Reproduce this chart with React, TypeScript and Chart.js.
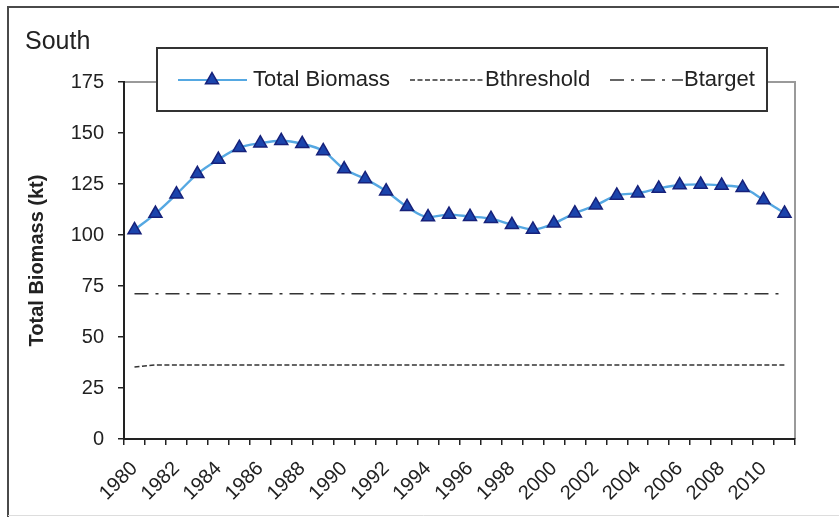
import React, { useEffect, useRef } from 'react';
import { Chart, registerables } from 'chart.js';

Chart.register(...registerables);

const years = [
  '1980', '1981', '1982', '1983', '1984', '1985', '1986', '1987', '1988', '1989',
  '1990', '1991', '1992', '1993', '1994', '1995', '1996', '1997', '1998', '1999',
  '2000', '2001', '2002', '2003', '2004', '2005', '2006', '2007', '2008', '2009',
  '2010', '2011',
];

const totalBiomass = [
  102.5, 110.5, 120, 130, 137, 142.8, 145, 146.2, 144.7, 141.2,
  132.3, 127.5, 121.5, 113.8, 108.8, 110, 109, 108, 105, 102.7,
  105.7, 110.7, 114.6, 119.4, 120.5, 122.8, 124.5, 124.8, 124.3, 123.2,
  117.2, 110.6,
];

const bThreshold = [
  35.3, 36.3, 36.3, 36.3, 36.3, 36.3, 36.3, 36.3, 36.3, 36.3,
  36.3, 36.3, 36.3, 36.3, 36.3, 36.3, 36.3, 36.3, 36.3, 36.3,
  36.3, 36.3, 36.3, 36.3, 36.3, 36.3, 36.3, 36.3, 36.3, 36.3,
  36.3, 36.3,
];

const bTarget = [
  71.2, 71.2, 71.2, 71.2, 71.2, 71.2, 71.2, 71.2, 71.2, 71.2,
  71.2, 71.2, 71.2, 71.2, 71.2, 71.2, 71.2, 71.2, 71.2, 71.2,
  71.2, 71.2, 71.2, 71.2, 71.2, 71.2, 71.2, 71.2, 71.2, 71.2,
  71.2, 71.2,
];

const seriesNames = ['Total Biomass', 'Bthreshold', 'Btarget'];
const chartTitle = 'South';
const yTitle = 'Total Biomass (kt)';

const FONT = '"Liberation Sans", Arial, Helvetica, sans-serif';
const LINE_BLUE = '#55A8E2';
const MARK_FILL = '#1B44AC';
const MARK_EDGE = '#16217A';
const TEXT = '#222222';
const THRESH_DASH = [5, 2.5];
const TARGET_DASH = [14, 7, 3, 7];

function drawTriangle(ctx: CanvasRenderingContext2D, x: number, y: number, r: number) {
  ctx.beginPath();
  let rad = 0;
  ctx.moveTo(x + Math.sin(rad) * r, y - Math.cos(rad) * r);
  rad += (2 * Math.PI) / 3;
  ctx.lineTo(x + Math.sin(rad) * r, y - Math.cos(rad) * r);
  rad += (2 * Math.PI) / 3;
  ctx.lineTo(x + Math.sin(rad) * r, y - Math.cos(rad) * r);
  ctx.closePath();
  ctx.fillStyle = MARK_FILL;
  ctx.strokeStyle = MARK_EDGE;
  ctx.lineWidth = 1.5;
  ctx.fill();
  ctx.stroke();
}

const decorPlugin = {
  id: 'decor',
  beforeDraw(chart: any) {
    const ctx: CanvasRenderingContext2D = chart.ctx;
    const { left, right, top, bottom } = chart.chartArea;
    ctx.save();
    ctx.fillStyle = '#ffffff';
    ctx.fillRect(0, 0, chart.width, chart.height);
    // outer frame
    ctx.strokeStyle = '#4a4a4a';
    ctx.lineWidth = 2;
    ctx.beginPath();
    ctx.moveTo(8, chart.height);
    ctx.lineTo(8, 7);
    ctx.lineTo(chart.width, 7);
    ctx.stroke();
    ctx.strokeStyle = '#dddddd';
    ctx.lineWidth = 1;
    ctx.beginPath();
    ctx.moveTo(8, 515.5);
    ctx.lineTo(chart.width, 515.5);
    ctx.stroke();
    // plot area border (top, right)
    ctx.strokeStyle = '#9a9a9a';
    ctx.lineWidth = 2;
    ctx.beginPath();
    ctx.moveTo(left, top);
    ctx.lineTo(right, top);
    ctx.lineTo(right, bottom);
    ctx.stroke();
    // title
    ctx.fillStyle = TEXT;
    ctx.font = '25px ' + FONT;
    ctx.textAlign = 'left';
    ctx.textBaseline = 'middle';
    ctx.fillText(chartTitle, 25, 42);
    // y title
    ctx.translate(37, (top + bottom) / 2);
    ctx.rotate(-Math.PI / 2);
    ctx.font = 'bold 20px ' + FONT;
    ctx.textAlign = 'center';
    ctx.fillText(yTitle, 0, 0);
    ctx.restore();
  },
  afterDraw(chart: any) {
    const ctx: CanvasRenderingContext2D = chart.ctx;
    ctx.save();
    // legend box
    const bx = 157, by = 48, bw = 610, bh = 63;
    ctx.fillStyle = '#ffffff';
    ctx.fillRect(bx, by, bw, bh);
    ctx.strokeStyle = '#333333';
    ctx.lineWidth = 2;
    ctx.strokeRect(bx, by, bw, bh);
    const cy = 80;
    // entry 1
    ctx.strokeStyle = LINE_BLUE;
    ctx.lineWidth = 2;
    ctx.beginPath();
    ctx.moveTo(178, cy);
    ctx.lineTo(247, cy);
    ctx.stroke();
    drawTriangle(ctx, 212, cy, 7.5);
    ctx.fillStyle = TEXT;
    ctx.font = '22px ' + FONT;
    ctx.textAlign = 'left';
    ctx.textBaseline = 'middle';
    ctx.fillText(seriesNames[0], 253, cy);
    // entry 2
    ctx.strokeStyle = '#333333';
    ctx.lineWidth = 1.5;
    ctx.setLineDash(THRESH_DASH);
    ctx.beginPath();
    ctx.moveTo(410, cy);
    ctx.lineTo(483, cy);
    ctx.stroke();
    ctx.fillText(seriesNames[1], 485, cy);
    // entry 3
    ctx.setLineDash(TARGET_DASH);
    ctx.beginPath();
    ctx.moveTo(610, cy);
    ctx.lineTo(683, cy);
    ctx.stroke();
    ctx.setLineDash([]);
    ctx.fillText(seriesNames[2], 684, cy);
    ctx.restore();
  },
};

export default function App() {
  const ref = useRef<HTMLCanvasElement | null>(null);

  useEffect(() => {
    if (!ref.current) return;
    const chart = new Chart(ref.current, {
      type: 'line',
      data: {
        labels: years,
        datasets: [
          {
            label: seriesNames[0],
            data: totalBiomass,
            borderColor: LINE_BLUE,
            borderWidth: 2.4,
            tension: 0.4,
            cubicInterpolationMode: 'monotone',
            pointStyle: 'triangle',
            pointRadius: 7.5,
            pointBackgroundColor: MARK_FILL,
            pointBorderColor: MARK_EDGE,
            pointBorderWidth: 1.5,
            order: 0,
          },
          {
            label: seriesNames[1],
            data: bThreshold,
            borderColor: '#333333',
            borderWidth: 1.5,
            borderDash: THRESH_DASH,
            pointRadius: 0,
            tension: 0,
            order: 2,
          },
          {
            label: seriesNames[2],
            data: bTarget,
            borderColor: '#333333',
            borderWidth: 1.5,
            borderDash: TARGET_DASH,
            pointRadius: 0,
            tension: 0,
            order: 1,
          },
        ],
      },
      options: {
        responsive: false,
        animation: false,
        devicePixelRatio: 1,
        layout: { padding: { left: 0, right: 44, top: 82, bottom: 0 } },
        plugins: {
          legend: { display: false },
          tooltip: { enabled: false },
          title: { display: false },
        },
        scales: {
          x: {
            type: 'category',
            offset: true,
            afterFit(scale: any) {
              scale.height = 78;
            },
            grid: {
              offset: true,
              drawOnChartArea: false,
              drawTicks: true,
              tickLength: 6,
              color: '#222222',
              lineWidth: 1.5,
            },
            border: { display: true, color: '#222222', width: 2 },
            ticks: {
              autoSkip: false,
              maxRotation: 45,
              minRotation: 45,
              padding: 12,
              color: TEXT,
              font: { family: FONT, size: 20 },
              callback: (_v: any, i: number) => (i % 2 === 0 ? years[i] : ''),
            },
          },
          y: {
            min: 0,
            max: 175,
            afterFit(scale: any) {
              scale.width = 124;
            },
            grid: {
              drawOnChartArea: false,
              drawTicks: true,
              tickLength: 6,
              color: '#222222',
              lineWidth: 1.5,
            },
            border: { display: true, color: '#222222', width: 2 },
            ticks: {
              stepSize: 25,
              padding: 14,
              color: TEXT,
              font: { family: FONT, size: 20 },
            },
          },
        },
      },
      plugins: [decorPlugin],
    } as any);
    return () => chart.destroy();
  }, []);

  return (
    <div style={{ position: 'fixed', left: 0, top: 0, width: 839, height: 517, background: '#fff' }}>
      <canvas ref={ref} width={839} height={517} style={{ display: 'block', width: 839, height: 517 }} />
    </div>
  );
}
